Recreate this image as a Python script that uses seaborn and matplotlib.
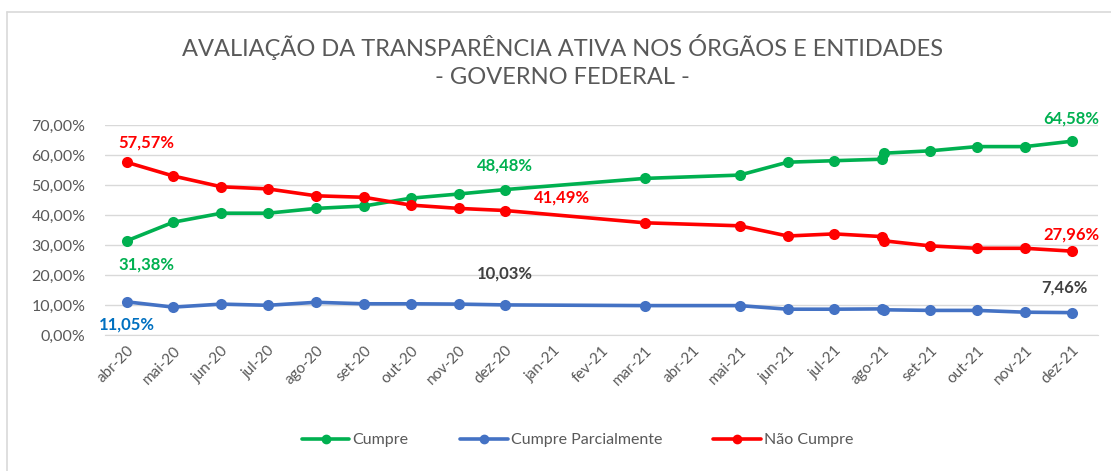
import pandas as pd
import matplotlib
matplotlib.use("Agg")
import matplotlib.pyplot as plt
import matplotlib.dates as mdates
from matplotlib.ticker import FuncFormatter
from matplotlib.lines import Line2D
import seaborn as sns

# Datas das avaliações (ago-21 tem duas medições)
datas = ["2020-04-15", "2020-05-15", "2020-06-15", "2020-07-15", "2020-08-15",
         "2020-09-15", "2020-10-15", "2020-11-15", "2020-12-15", "2021-03-15",
         "2021-05-15", "2021-06-15", "2021-07-15", "2021-08-15", "2021-08-16",
         "2021-09-15", "2021-10-15", "2021-11-15", "2021-12-15"]

cumpre = [31.38, 37.6, 40.6, 40.6, 42.2, 43.0, 45.6, 47.0, 48.48, 52.2,
          53.3, 57.6, 58.1, 58.6, 60.6, 61.4, 62.8, 62.8, 64.58]
parcial = [11.05, 9.3, 10.3, 9.9, 10.9, 10.4, 10.4, 10.3, 10.03, 9.8,
           9.8, 8.6, 8.6, 8.7, 8.4, 8.2, 8.2, 7.6, 7.46]
nao_cumpre = [57.57, 53.0, 49.4, 48.7, 46.4, 45.9, 43.3, 42.2, 41.49, 37.4,
              36.4, 33.0, 33.7, 32.8, 31.4, 29.7, 28.9, 28.9, 27.96]

series = ["Cumpre", "Cumpre Parcialmente", "Não Cumpre"]
cores = {"Cumpre": "#00B050", "Cumpre Parcialmente": "#4472C4", "Não Cumpre": "#FF0000"}
meses_pt = ["jan", "fev", "mar", "abr", "mai", "jun", "jul", "ago", "set", "out", "nov", "dez"]

df = pd.DataFrame({"data": pd.to_datetime(datas), "Cumpre": cumpre,
                   "Cumpre Parcialmente": parcial, "Não Cumpre": nao_cumpre})
df_long = df.melt(id_vars="data", var_name="serie", value_name="valor")

sns.set_style("white")
plt.rcParams["font.family"] = ["Lato", "DejaVu Sans"]

fig = plt.figure(figsize=(11.11, 4.71), dpi=100)
ax = fig.add_axes([105 / 1111, 1 - 335 / 471, (1098 - 105) / 1111, 210 / 471])

sns.lineplot(data=df_long, x="data", y="valor", hue="serie", hue_order=series,
             palette=cores, marker="o", markersize=8, markeredgewidth=0,
             linewidth=2.6, legend=False, ax=ax)

ax.set_xlim(pd.Timestamp("2020-04-01"), pd.Timestamp("2022-01-01"))
ax.set_ylim(0, 70)
ax.set_yticks(range(0, 71, 10))
ax.yaxis.set_major_formatter(FuncFormatter(lambda v, p: f"{v:.2f}%".replace(".", ",")))

# rótulos no meio do mês, marcas nas divisões
ax.xaxis.set_major_locator(mdates.MonthLocator(bymonthday=15))
ax.xaxis.set_minor_locator(mdates.MonthLocator(bymonthday=1))
ax.xaxis.set_major_formatter(FuncFormatter(
    lambda v, p: f"{meses_pt[mdates.num2date(v).month - 1]}-{mdates.num2date(v).year % 100:02d}"))
ax.tick_params(axis="x", which="major", length=0, labelsize=11, labelcolor="#595959", pad=6)
ax.tick_params(axis="x", which="minor", length=5, color="#D9D9D9", width=1)
ax.tick_params(axis="y", length=0, labelsize=11.5, labelcolor="#595959", pad=14)
for lab in ax.get_xticklabels():
    lab.set_rotation(45)
    lab.set_ha("right")
    lab.set_rotation_mode("anchor")

ax.set_xlabel("")
ax.set_ylabel("")
ax.grid(axis="y", color="#D9D9D9", linewidth=1)
for s in ["left", "right", "top"]:
    ax.spines[s].set_visible(False)
ax.spines["bottom"].set_color("#D9D9D9")

# rótulos de dados
rot = [
    ("2020-04-15", 31.38, "31,38%", "#00B050", 14, -8),
    ("2020-12-15", 48.48, "48,48%", "#00B050", 0, 8),
    ("2021-12-15", 64.58, "64,58%", "#00B050", 0, 7.5),
    ("2020-04-15", 57.57, "57,57%", "#FF0000", 14, 6.5),
    ("2020-12-15", 41.49, "41,49%", "#FF0000", 41, 4.3),
    ("2021-12-15", 27.96, "27,96%", "#FF0000", 0, 5.5),
    ("2020-04-15", 11.05, "11,05%", "#0070C0", 0, -7.5),
    ("2020-12-15", 10.03, "10,03%", "#404040", 0, 10.5),
    ("2021-12-15", 7.46, "7,46%", "#404040", -5, 8.5),
]
for d, v, txt, cor, dx, dy in rot:
    ax.annotate(txt, (pd.Timestamp(d), v + dy), xytext=(dx, 0), textcoords="offset points",
                ha="center", va="center", color=cor, fontsize=12, fontweight="bold",
                annotation_clip=False)

fig.text(0.506, 1 - 47 / 471, "AVALIAÇÃO DA TRANSPARÊNCIA ATIVA NOS ÓRGÃOS E ENTIDADES",
         ha="center", va="center", fontsize=17, color="#595959")
fig.text(0.506, 1 - 78 / 471, "- GOVERNO FEDERAL -",
         ha="center", va="center", fontsize=17, color="#595959")

handles = [Line2D([0], [0], color=cores[s], linewidth=2.6, marker="o", markersize=6) for s in series]
fig.legend(handles, series, loc="center", bbox_to_anchor=(0.52, 1 - 440 / 471), ncol=3,
           frameon=False, fontsize=11.5, handlelength=3, columnspacing=3.2, handletextpad=0.2,
           labelcolor="#595959")

# moldura do gráfico
fig.add_artist(Line2D([7 / 1111, 7 / 1111], [0, 1 - 12 / 471], color="#D9D9D9", linewidth=1.2))
fig.add_artist(Line2D([7 / 1111, 1], [1 - 12 / 471, 1 - 12 / 471], color="#D9D9D9", linewidth=1.2))

fig.savefig("out.png", dpi=100)
